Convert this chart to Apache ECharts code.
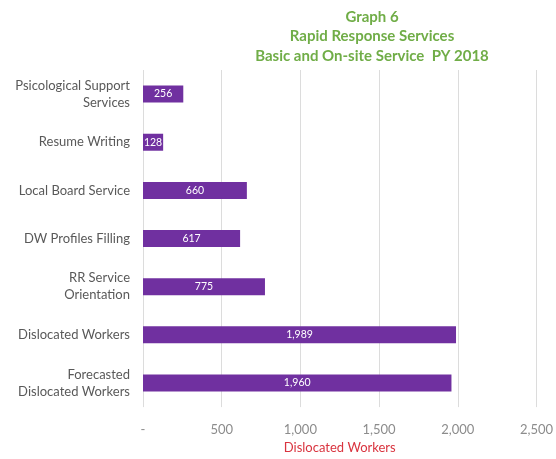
<!DOCTYPE html>
<html>
<head>
<meta charset="utf-8">
<script src="https://cdn.jsdelivr.net/npm/echarts@6/dist/echarts.min.js"></script>
<style>
  html, body { margin: 0; padding: 0; background: #ffffff; }
  #chart { width: 556px; height: 459px; }
</style>
</head>
<body>
<div id="chart"></div>
<script>
// Services delivered, top to bottom
const categories = [
  'Psicological Support\nServices',
  'Resume Writing',
  'Local Board Service',
  'DW Profiles Filling',
  'RR Service\nOrientation',
  'Dislocated Workers',
  'Forecasted\nDislocated Workers'
];
const values = [256, 128, 660, 617, 775, 1989, 1960];
const titleLines = ['Graph 6', 'Rapid Response Services', 'Basic and On-site Service  PY 2018'];
const axisTitle = 'Dislocated Workers';

const FONT = 'Lato, "Open Sans", sans-serif';
const fmt = v => v === 0 ? '-' : v.toLocaleString('en-US');

const chart = echarts.init(document.getElementById('chart'), null, { renderer: 'canvas' });
chart.setOption({
  animation: false,
  backgroundColor: '#ffffff',
  title: {
    text: titleLines.join('\n'),
    left: 367,
    top: 2,
    textAlign: 'center',
    textStyle: {
      color: '#70AD47',
      fontFamily: FONT,
      fontSize: 15,
      fontWeight: 'bold',
      lineHeight: 19.5
    }
  },
  grid: { left: 143, right: 14, top: 70, bottom: 49, containLabel: false },
  xAxis: {
    type: 'value',
    min: 0,
    max: 2500,
    interval: 500,
    name: axisTitle,
    nameLocation: 'middle',
    nameGap: 33,
    nameTextStyle: { color: '#D9343F', fontFamily: FONT, fontSize: 13 },
    axisLine: { show: false },
    axisTick: { show: false },
    axisLabel: { color: '#8c8c8c', fontFamily: FONT, fontSize: 13, margin: 16, formatter: fmt },
    splitLine: { show: true, lineStyle: { color: '#dcdcdc', width: 1 } }
  },
  yAxis: {
    type: 'category',
    data: categories,
    inverse: true,
    axisLine: { show: false },
    axisTick: { show: false },
    axisLabel: {
      color: '#595959',
      fontFamily: FONT,
      fontSize: 13,
      margin: 13,
      lineHeight: 17,
      align: 'right'
    }
  },
  series: [{
    type: 'bar',
    data: values,
    barWidth: 17,
    itemStyle: { color: '#7030A0' },
    label: {
      show: true,
      position: 'inside',
      color: '#ffffff',
      fontFamily: FONT,
      fontSize: 10.5,
      formatter: p => fmt(p.value)
    }
  }]
});
</script>
</body>
</html>
